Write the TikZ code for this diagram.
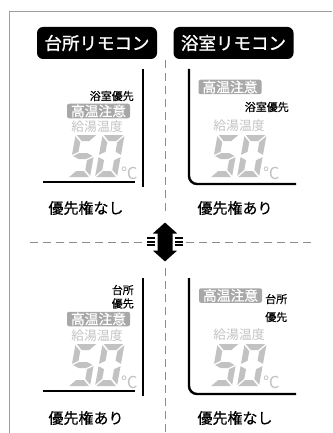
\documentclass[tikz,border=0pt]{standalone}
\usepackage{fontspec}
\setmainfont{Noto Sans CJK JP}
\newfontfamily\medfont{Noto Sans CJK JP}[FakeBold=0.5]
\newfontfamily\heavyfont{Noto Sans CJK JP}[FakeBold=1.2]
\definecolor{framegray}{gray}{0.62}
\definecolor{dashgray}{gray}{0.55}
\definecolor{warngray}{gray}{0.66}
\definecolor{dimgray}{gray}{0.76}
\definecolor{digitgray}{gray}{0.76}
\tikzset{
  titlebox/.style={fill=black, text=white, rounded corners=6pt, minimum width=120pt, minimum height=32pt, inner sep=0pt, font=\heavyfont\fontsize{17.5}{18}\selectfont},
  warnbox/.style={fill=warngray, text=white, rounded corners=2pt, minimum width=63pt, minimum height=14.5pt, inner sep=0pt, font=\medfont\fontsize{13.8}{14}\selectfont},
  smalltxt/.style={inner sep=0pt, font=\medfont\fontsize{11}{12}\selectfont},
  dimtxt/.style={inner sep=0pt, text=dimgray, font=\fontsize{12.8}{13}\selectfont},
  celsius/.style={inner sep=0pt, text=digitgray, font=\fontsize{16.5}{16.5}\selectfont},
  captxt/.style={inner sep=0pt, font=\medfont\fontsize{15}{15}\selectfont},
  panelline/.style={line width=2.4pt},
  dashline/.style={dashgray, line width=0.8pt, dash pattern=on 8pt off 5pt},
  seg/.style={fill=digitgray}
}
% seven-segment cell: w=22, h=42, t=6, gap=1.2
\newcommand\segA{\fill[seg] (1.2,42) -- (20.8,42) -- (14.8,36) -- (7.2,36) -- cycle;}
\newcommand\segB{\fill[seg] (22,40.8) -- (22,22.2) -- (16,25.2) -- (16,34.8) -- cycle;}
\newcommand\segC{\fill[seg] (22,19.8) -- (22,1.2) -- (16,7.2) -- (16,16.8) -- cycle;}
\newcommand\segD{\fill[seg] (1.2,0) -- (20.8,0) -- (14.8,6) -- (7.2,6) -- cycle;}
\newcommand\segE{\fill[seg] (0,19.8) -- (0,1.2) -- (6,7.2) -- (6,16.8) -- cycle;}
\newcommand\segF{\fill[seg] (0,40.8) -- (0,22.2) -- (6,25.2) -- (6,34.8) -- cycle;}
\newcommand\segG{\fill[seg] (1.2,21) -- (7.2,24) -- (14.8,24) -- (20.8,21) -- (14.8,18) -- (7.2,18) -- cycle;}
\newcommand\fiftyat[2]{%
  \begin{scope}[shift={(#1,#2)}, xslant=0.18, yscale=-1]
    \segA\segF\segG\segC\segD
  \end{scope}
  \begin{scope}[shift={(#1+27,#2)}, xslant=0.18, yscale=-1]
    \segA\segB\segC\segD\segE\segF
  \end{scope}}
\begin{document}
\begin{tikzpicture}[x=1pt, y=-1pt]
\useasboundingbox (0,0) rectangle (332,433);
% frame
\draw[framegray, line width=1pt] (9,433) -- (9,12) -- (332,12);
% dashed separators
\coordinate (vtop) at (165,60);
\coordinate (vbot) at (165,433);
\coordinate (hl) at (30,242);
\coordinate (hr) at (314,242);
\draw[dashline] (vtop) -- (vbot);
\draw[dashline] (hl) -- (hr);
% double arrow
\filldraw[fill=black, draw=white, line width=5pt, line join=miter]
  (165,219) -- (184,236) -- (175,236) -- (175,248) -- (184,248) -- (165,265)
  -- (146,248) -- (155,248) -- (155,236) -- (146,236) -- cycle;
\foreach \yy in {237,240.5,244} {
  \fill[black] (147,\yy) rectangle (155,\yy+2);
  \fill[black] (175,\yy) rectangle (183,\yy+2);
}
% titles
\node[titlebox] (tK) at (97,43) {台所リモコン};
\node[titlebox] (tB) at (233.5,43) {浴室リモコン};

% ---------- top-left panel
\coordinate (tl1) at (143,69);
\coordinate (tl2) at (143,187);
\coordinate (tl3) at (43,182);
\coordinate (tl4) at (135,182);
\draw[panelline] (tl1) -- (tl2);
\draw[line width=1.3pt] (tl3) -- (tl4);
\node[smalltxt, anchor=east] (tlp) at (134,96) {浴室優先};
\node[warnbox] (tlw) at (98.5,111) {高温注意};
\node[dimtxt] (tlk) at (97,127) {給湯温度};
\fiftyat{68}{177}
\node[celsius, anchor=south west] (tlc) at (121,180) {℃};
\node[captxt] (tlcap) at (86,208) {優先権なし};

% ---------- top-right panel
\coordinate (tr1) at (189,69);
\coordinate (tr2) at (296,184);
\draw[panelline, rounded corners=8pt] (tr1) |- (tr2);
\node[warnbox] (trw) at (230,87) {高温注意};
\node[smalltxt, anchor=east] (trp) at (289,107) {浴室優先};
\node[dimtxt] (trk) at (239,126) {給湯温度};
\fiftyat{210}{177}
\node[celsius, anchor=south west] (trc) at (263,180) {℃};
\node[captxt] (trcap) at (235,208) {優先権あり};

% ---------- bottom-left panel
\coordinate (bl1) at (143,278);
\coordinate (bl2) at (143,396);
\coordinate (bl3) at (43,391);
\coordinate (bl4) at (135,391);
\draw[panelline] (bl1) -- (bl2);
\draw[line width=1.3pt] (bl3) -- (bl4);
\node[smalltxt, anchor=east] (blp1) at (134,290) {台所};
\node[smalltxt, anchor=east] (blp2) at (134,303.5) {優先};
\node[warnbox] (blw) at (98.5,319) {高温注意};
\node[dimtxt] (blk) at (97,336) {給湯温度};
\fiftyat{68}{386}
\node[celsius, anchor=south west] (blc) at (121,389) {℃};
\node[captxt] (blcap) at (86,418) {優先権あり};

% ---------- bottom-right panel
\coordinate (br1) at (189,278);
\coordinate (br2) at (296,394);
\draw[panelline, rounded corners=8pt] (br1) |- (br2);
\node[warnbox] (brw) at (230.5,295.5) {高温注意};
\node[smalltxt, anchor=west] (brp1) at (265,299) {台所};
\node[smalltxt, anchor=west] (brp2) at (265,317) {優先};
\node[dimtxt] (brk) at (239,335) {給湯温度};
\fiftyat{210}{386}
\node[celsius, anchor=south west] (brc) at (263,389) {℃};
\node[captxt] (brcap) at (235,418) {優先権なし};
\end{tikzpicture}
\end{document}
